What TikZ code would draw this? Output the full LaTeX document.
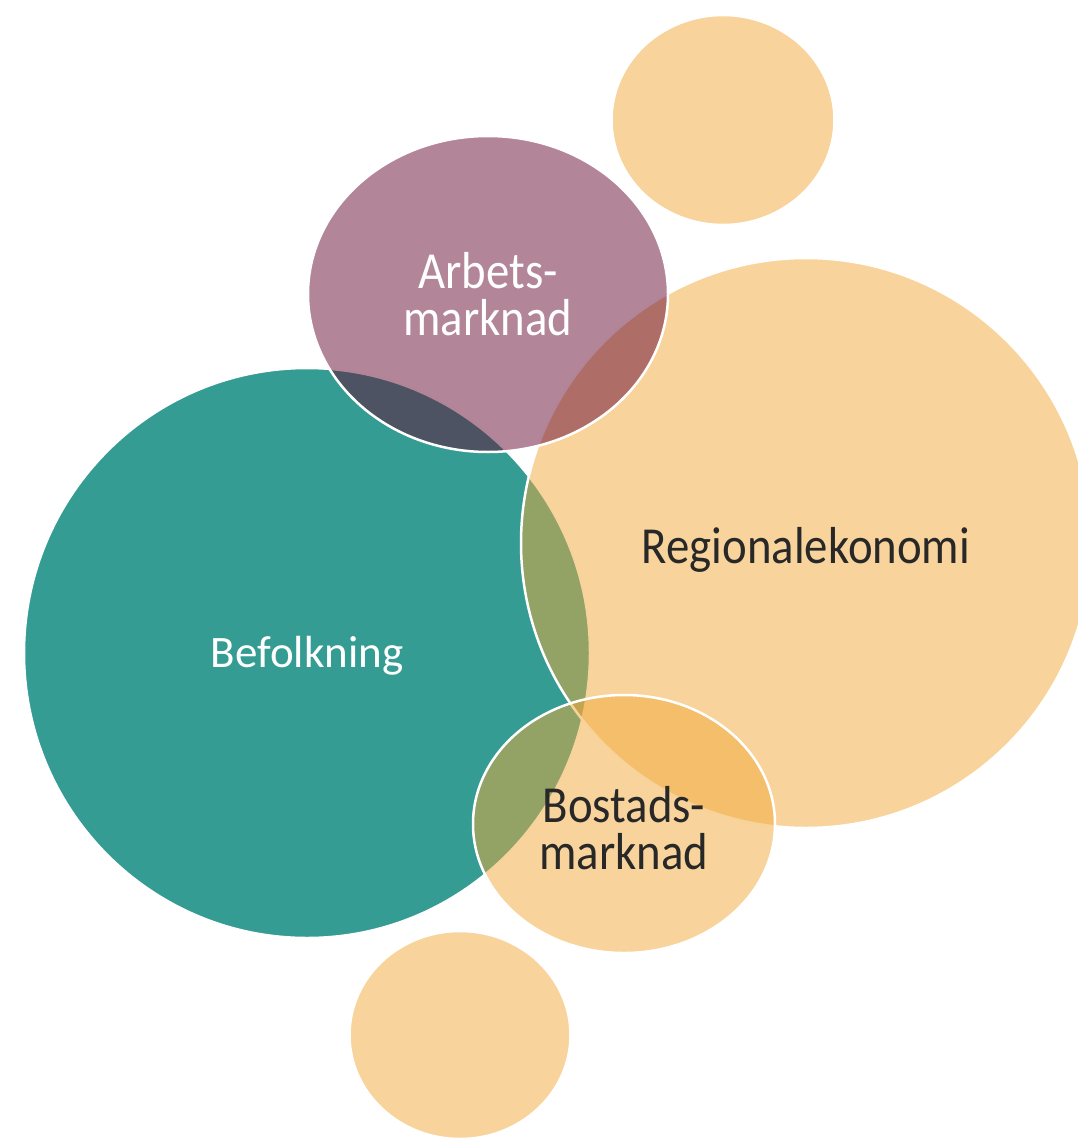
\documentclass[tikz,border=0pt]{standalone}
\usepackage{fontspec}
\setmainfont{Carlito}
\usetikzlibrary{shapes.geometric}

\definecolor{tealfill}{RGB}{53,156,147}
\definecolor{orangefill}{RGB}{241,169,57}
\definecolor{plumfill}{RGB}{101,11,51}
\definecolor{darktext}{RGB}{40,40,40}

\begin{document}
\begin{tikzpicture}[x=1pt, y=-1pt,
    bubble/.style={ellipse, draw=white, line width=2.5pt, inner sep=0pt},
    softbubble/.style={bubble, fill=orangefill, fill opacity=0.5},
    lighttext/.style={font=\fontsize{52}{47}\selectfont, align=center, inner sep=0pt, xscale=0.9, transform shape}
]
\useasboundingbox (0,0) rectangle (1077,1140);

% bubbles, back to front
\node[bubble, fill=tealfill, minimum width=566pt, minimum height=570pt](befolkning) at (307,653){};
\node[softbubble, minimum width=570pt, minimum height=570pt](region) at (806,543){};
\node[bubble, fill=plumfill, fill opacity=0.5, minimum width=360pt, minimum height=316pt](arbets) at (488,294){};
\node[softbubble, minimum width=302pt, minimum height=258pt](bostad) at (624,824){};
\node[softbubble, minimum width=223pt, minimum height=210pt](smalltop) at (723,120){};
\node[softbubble, minimum width=221pt, minimum height=208pt](smallbottom) at (460,1035){};

% labels
\node[font=\fontsize{45}{50}\selectfont, text=white, inner sep=0pt] at ([yshift=-3pt]befolkning) {Befolkning};
\node[lighttext, text=white] at (arbets) {Arbets-\\marknad};
\node[lighttext, text=darktext] at ([yshift=-7pt]region) {Regionalekonomi};
\node[lighttext, text=darktext] at ([yshift=-4pt]bostad) {Bostads-\\marknad};
\end{tikzpicture}
\end{document}
